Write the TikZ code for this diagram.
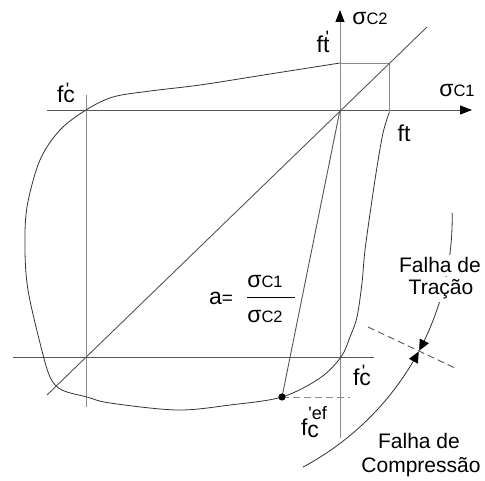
\documentclass[tikz,border=0pt]{standalone}
\usepackage{fontspec}
\setmainfont{Liberation Sans}[Ligatures=TeXOff]
\usetikzlibrary{arrows.meta}
\definecolor{lgray}{HTML}{8C8C8C}
\definecolor{dgray}{HTML}{555555}
\definecolor{cblack}{HTML}{333333}
\newcommand\sigc[1]{σ{\fontsize{16.5}{16.5}\selectfont C#1}}
\newcommand\fprime[2]{f\makebox[0pt][l]{\kern2.5pt\raisebox{#2}{\fontsize{18}{18}\selectfont '}}#1}
\tikzset{
  lab/.style={font=\fontsize{23}{23}\selectfont, inner sep=0pt, anchor=base},
  flab/.style={font=\fontsize{21}{21}\selectfont, inner sep=2.5pt, anchor=base},
  lightline/.style={draw=lgray, line width=0.9pt},
  darkline/.style={draw=dgray, line width=0.9pt},
  curveline/.style={draw=cblack, line width=0.8pt},
  axtip/.style={-{Triangle[length=12pt,width=9pt,color=black]}},
  arctip/.style={-{Triangle[length=11pt,width=10pt,color=black]}}
}
\begin{document}
\begin{tikzpicture}[x=1pt,y=-1pt]
\useasboundingbox (0,0) rectangle (485,481);
% key points
\coordinate (O) at (340,110);
\coordinate (C) at (86,357);
\coordinate (T) at (389,63);
\coordinate (Tl) at (340,63);
\coordinate (Tr) at (389,113);
\coordinate (D) at (282,397);
% axes and reference lines
\coordinate (hx0) at (47,110); \coordinate (hx1) at (472,110);
\coordinate (vy0) at (340,438); \coordinate (vy1) at (340,10);
\coordinate (lv0) at (86,95); \coordinate (lv1) at (86,407);
\coordinate (lh0) at (13,357); \coordinate (lh1) at (374,357);
\coordinate (dg0) at (47,395); \coordinate (dg1) at (427,27);
\coordinate (de) at (350,397);
\coordinate (rd0) at (368,327); \coordinate (rd1) at (455,368);
\draw[darkline, axtip] (hx0) -- (hx1);
\draw[lightline, axtip] (vy0) -- (vy1);
\draw[lightline] (lv0) -- (lv1);
\draw[darkline] (lh0) -- (lh1);
\draw[lightline] (Tl) -- (T) -- (Tr);
\draw[darkline] (dg0) -- (dg1);
\draw[darkline] (O) -- (D);
\draw[lightline, dashed, dash pattern=on 7pt off 4pt] (D) -- (de);
\draw[darkline, dashed, dash pattern=on 7pt off 4pt] (rd0) -- (rd1);
% failure envelope
\draw[curveline] plot[smooth, tension=0.55] coordinates {(Tl) (270,74) (200,85) (150,91) (113,97) (86,110) (60,130) (40,160) (27,207) (25,250) (28,290) (40,343) (50,377) (62,390) (87,397) (110,403) (177,410) (230,405) (D) (320,378) (341,357) (350,337) (357,317) (362,283) (365,250) (372,200) (377,167) (383,133) (Tr)};
\fill[black] (D) circle (3.6pt);
% arc
\draw[curveline, arctip] plot[domain=-1.08:28, samples=40] ({170.2+282*cos(\x)},{218.3+282*sin(\x)});
\draw[curveline, arctip] plot[domain=61.9:28.2, samples=40] ({170.2+282*cos(\x)},{218.3+282*sin(\x)});
% labels
\node[lab] (s2) at (370,25) {\sigc{2}};
\node[lab] (s1) at (457,97) {\sigc{1}};
\node[lab] (ftp) at (323,53) {\fprime{t}{9.5pt}};
\node[lab] (ft) at (404,142) {ft};
\node[lab] (fc1) at (66,103) {\fprime{c}{7.5pt}};
\node[lab] (fc2) at (362,385) {\fprime{c}{7.5pt}};
\node[lab] (fef) at (310,435) {f\makebox[0pt][l]{\raisebox{16pt}{\fontsize{18}{18}\selectfont\kern1pt'ef}}\raisebox{-2pt}{c}};
\node[lab] (aeq) at (221,305) {a\fontsize{19}{19}\selectfont=};
\node[lab] (num) at (265,288) {\sigc{1}};
\node[lab] (den) at (265,323) {\sigc{2}};
\coordinate (b0) at (247,297); \coordinate (b1) at (295,297);
\draw[line width=0.7pt, black] (b0) -- (b1);
\node[flab, fill=white] (ft1) at (440,273) {Falha de};
\node[flab, fill=white] (ft2) at (441,295) {Tração};
\node[flab] (fc3) at (419,448) {Falha de};
\node[flab] (fc4) at (421,472) {Compressão};
\end{tikzpicture}
\end{document}
